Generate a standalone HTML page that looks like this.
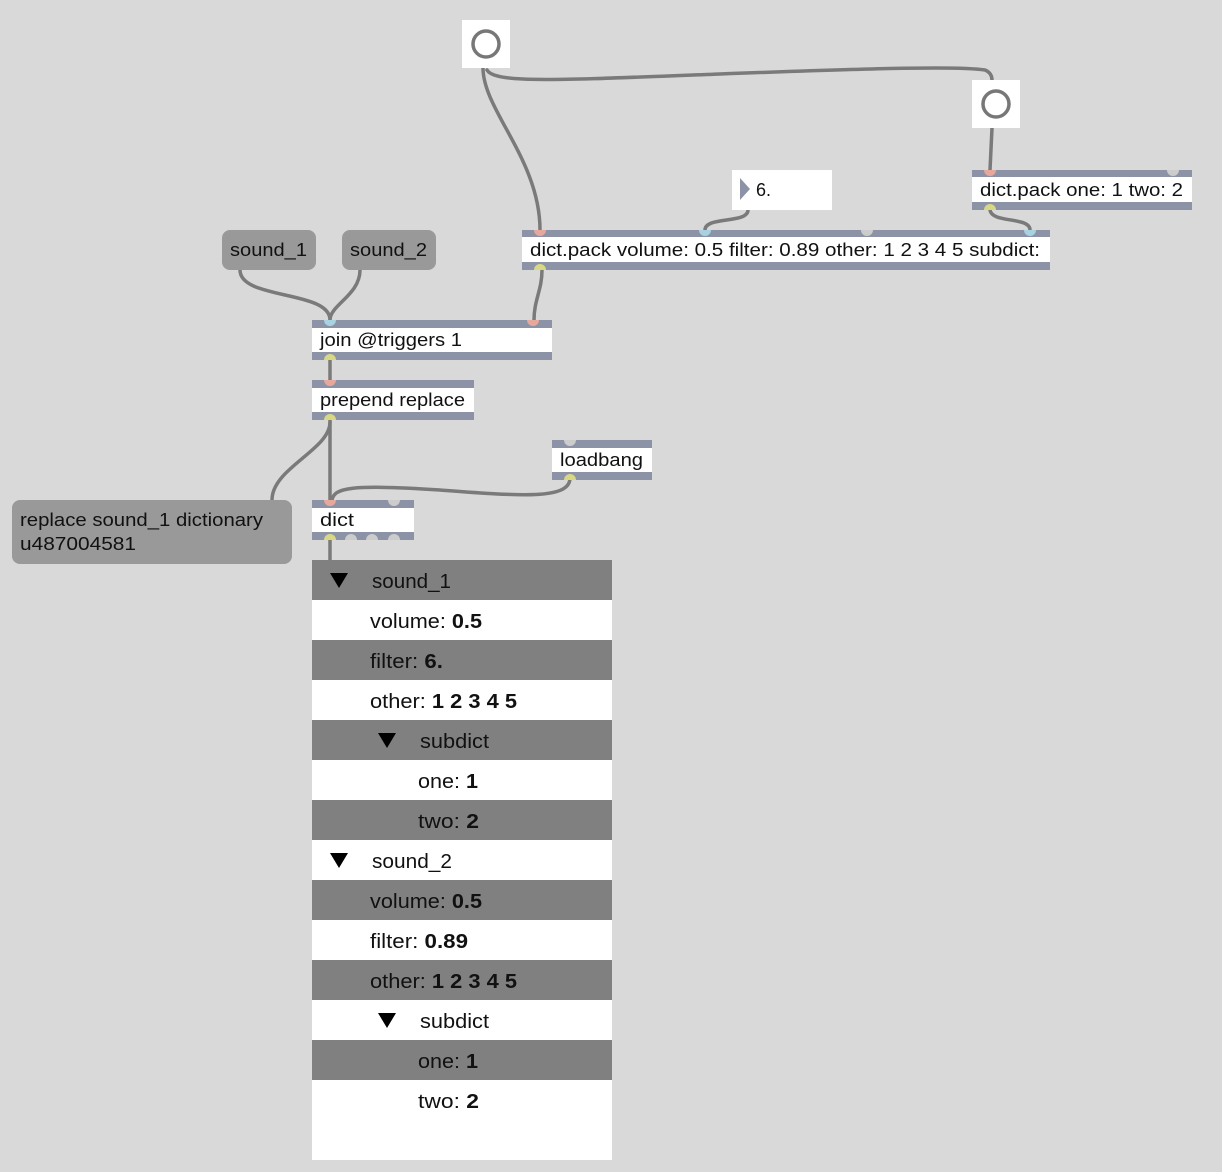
<!DOCTYPE html>
<html><head><meta charset="utf-8"><style>
body{margin:0;background:#d9d9d9;}
svg{display:block;font-family:"Liberation Sans",sans-serif;}
</style></head><body>
<svg width="1222" height="1172" viewBox="0 0 1222 1172" xmlns="http://www.w3.org/2000/svg">
<rect width="1222" height="1172" fill="#d9d9d9"/>
<g fill="none" stroke="#7a7a7a" stroke-width="3.5" stroke-linecap="round">
<path d="M483,68 C483,110 540,160 540,230"/>
<path d="M487,70 C495,84 560,80 720,74 C880,68 960,66 985,70 C990,72 992,76 992,80"/>
<path d="M992,128 L990,170"/>
<path d="M748,210 C748,224 705,216 705,230"/>
<path d="M990,209 C990,224 1030,216 1030,230"/>
<path d="M542,270 C542,290 534,300 534,320"/>
<path d="M240,270 C240,300 330,290 330,320"/>
<path d="M360,270 C360,295 330,305 330,320"/>
<path d="M330,360 L330,380"/>
<path d="M330,420 L330,500"/>
<path d="M330,422 C330,450 272,468 272,500"/>
<path d="M570,478 C570,500 520,496 440,490 C350,484 334,488 332,500"/>
<path d="M330,540 L330,560"/>
</g>
<rect x="462" y="20" width="48" height="48" fill="#fff"/>
<circle cx="486" cy="44" r="13" fill="none" stroke="#777" stroke-width="3.5"/>
<rect x="972" y="80" width="48" height="48" fill="#fff"/>
<circle cx="996" cy="104" r="13" fill="none" stroke="#777" stroke-width="3.5"/>
<rect x="732" y="170" width="100" height="40" fill="#fff"/>
<polygon points="740,178 750,189 740,200" fill="#8d93a6"/>
<text x="756" y="196" font-size="18" fill="#111">6.</text>
<g font-size="18" fill="#111">
<rect x="972" y="170" width="220" height="40" fill="#8d93a6"/><rect x="972" y="177" width="220" height="25" fill="#fff"/>
<text x="980" y="196" textLength="203" lengthAdjust="spacingAndGlyphs">dict.pack one: 1 two: 2</text>
<rect x="522" y="230" width="528" height="40" fill="#8d93a6"/><rect x="522" y="237" width="528" height="25" fill="#fff"/>
<text x="530" y="256" textLength="510" lengthAdjust="spacingAndGlyphs">dict.pack volume: 0.5 filter: 0.89 other: 1 2 3 4 5 subdict:</text>
<rect x="312" y="320" width="240" height="40" fill="#8d93a6"/><rect x="312" y="328" width="240" height="24" fill="#fff"/>
<text x="320" y="346" textLength="142" lengthAdjust="spacingAndGlyphs">join @triggers 1</text>
<rect x="312" y="380" width="162" height="40" fill="#8d93a6"/><rect x="312" y="388" width="162" height="24" fill="#fff"/>
<text x="320" y="406" textLength="145" lengthAdjust="spacingAndGlyphs">prepend replace</text>
<rect x="552" y="440" width="100" height="40" fill="#8d93a6"/><rect x="552" y="448" width="100" height="24" fill="#fff"/>
<text x="560" y="466" textLength="83" lengthAdjust="spacingAndGlyphs">loadbang</text>
<rect x="312" y="500" width="102" height="40" fill="#8d93a6"/><rect x="312" y="508" width="102" height="24" fill="#fff"/>
<text x="320" y="526" textLength="34" lengthAdjust="spacingAndGlyphs">dict</text>
</g>
<g>
<path d="M984,170 a6,6 0 0 0 12,0z" fill="#e6a89c"/><path d="M1167,170 a6,6 0 0 0 12,0z" fill="#ccc"/>
<path d="M984,210 a6,6 0 0 1 12,0z" fill="#d8d884"/>
<path d="M534,230 a6,6 0 0 0 12,0z" fill="#e6a89c"/><path d="M699,230 a6,6 0 0 0 12,0z" fill="#a8d2e2"/>
<path d="M861,230 a6,6 0 0 0 12,0z" fill="#ccc"/><path d="M1024,230 a6,6 0 0 0 12,0z" fill="#a8d2e2"/>
<path d="M534,270 a6,6 0 0 1 12,0z" fill="#d8d884"/>
<path d="M324,320 a6,6 0 0 0 12,0z" fill="#a8d2e2"/><path d="M527,320 a6,6 0 0 0 12,0z" fill="#e6a89c"/>
<path d="M324,360 a6,6 0 0 1 12,0z" fill="#d8d884"/>
<path d="M324,380 a6,6 0 0 0 12,0z" fill="#e6a89c"/><path d="M324,420 a6,6 0 0 1 12,0z" fill="#d8d884"/>
<path d="M564,440 a6,6 0 0 0 12,0z" fill="#ccc"/><path d="M564,480 a6,6 0 0 1 12,0z" fill="#d8d884"/>
<path d="M324,500 a6,6 0 0 0 12,0z" fill="#e6a89c"/><path d="M388,500 a6,6 0 0 0 12,0z" fill="#ccc"/>
<path d="M324,540 a6,6 0 0 1 12,0z" fill="#d8d884"/><path d="M345,540 a6,6 0 0 1 12,0z" fill="#ccc"/>
<path d="M366,540 a6,6 0 0 1 12,0z" fill="#ccc"/><path d="M388,540 a6,6 0 0 1 12,0z" fill="#ccc"/>
</g>
<g font-size="18" fill="#111">
<rect x="222" y="230" width="94" height="40" rx="8" fill="#999"/><text x="230" y="256" textLength="77" lengthAdjust="spacingAndGlyphs">sound_1</text>
<rect x="342" y="230" width="94" height="40" rx="8" fill="#999"/><text x="350" y="256" textLength="77" lengthAdjust="spacingAndGlyphs">sound_2</text>
<rect x="12" y="500" width="280" height="64" rx="8" fill="#999"/>
<text x="20" y="526" textLength="243" lengthAdjust="spacingAndGlyphs">replace sound_1 dictionary</text><text x="20" y="550" textLength="116" lengthAdjust="spacingAndGlyphs">u487004581</text>
</g>
<rect x="312" y="560" width="300" height="600" fill="#fff"/>
<g fill="#808080">
<rect x="312" y="560" width="300" height="40"/><rect x="312" y="640" width="300" height="40"/>
<rect x="312" y="720" width="300" height="40"/><rect x="312" y="800" width="300" height="40"/>
<rect x="312" y="880" width="300" height="40"/><rect x="312" y="960" width="300" height="40"/>
<rect x="312" y="1040" width="300" height="40"/>
</g>
<g font-size="20" fill="#111">
<polygon points="330,573 348,573 339,588" fill="#000"/><text x="372" y="588" textLength="79" lengthAdjust="spacingAndGlyphs">sound_1</text>
<text x="370" y="628" textLength="112" lengthAdjust="spacingAndGlyphs">volume: <tspan font-weight="bold">0.5</tspan></text>
<text x="370" y="668" textLength="73" lengthAdjust="spacingAndGlyphs">filter: <tspan font-weight="bold">6.</tspan></text>
<text x="370" y="708" textLength="147" lengthAdjust="spacingAndGlyphs">other: <tspan font-weight="bold">1 2 3 4 5</tspan></text>
<polygon points="378,733 396,733 387,748" fill="#000"/><text x="420" y="748" textLength="69" lengthAdjust="spacingAndGlyphs">subdict</text>
<text x="418" y="788" textLength="60" lengthAdjust="spacingAndGlyphs">one: <tspan font-weight="bold">1</tspan></text>
<text x="418" y="828" textLength="61" lengthAdjust="spacingAndGlyphs">two: <tspan font-weight="bold">2</tspan></text>
<polygon points="330,853 348,853 339,868" fill="#000"/><text x="372" y="868" textLength="80" lengthAdjust="spacingAndGlyphs">sound_2</text>
<text x="370" y="908" textLength="112" lengthAdjust="spacingAndGlyphs">volume: <tspan font-weight="bold">0.5</tspan></text>
<text x="370" y="948" textLength="98" lengthAdjust="spacingAndGlyphs">filter: <tspan font-weight="bold">0.89</tspan></text>
<text x="370" y="988" textLength="147" lengthAdjust="spacingAndGlyphs">other: <tspan font-weight="bold">1 2 3 4 5</tspan></text>
<polygon points="378,1013 396,1013 387,1028" fill="#000"/><text x="420" y="1028" textLength="69" lengthAdjust="spacingAndGlyphs">subdict</text>
<text x="418" y="1068" textLength="60" lengthAdjust="spacingAndGlyphs">one: <tspan font-weight="bold">1</tspan></text>
<text x="418" y="1108" textLength="61" lengthAdjust="spacingAndGlyphs">two: <tspan font-weight="bold">2</tspan></text>
</g>
</svg>
</body></html>
